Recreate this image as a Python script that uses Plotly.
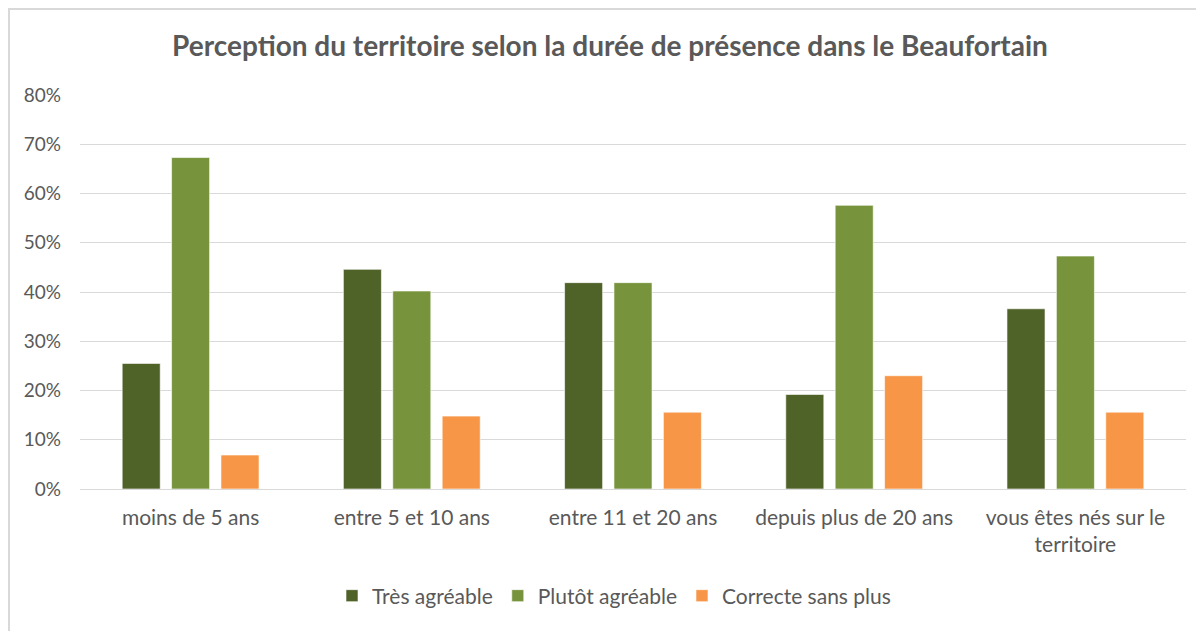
import plotly.graph_objects as go

categories = ["moins de 5 ans", "entre 5 et 10 ans", "entre 11 et 20 ans",
              "depuis plus de 20 ans", "vous êtes nés sur le<br>territoire"]
tres_agreable = [0.255, 0.446, 0.419, 0.192, 0.366]
plutot_agreable = [0.673, 0.402, 0.419, 0.576, 0.473]
correcte = [0.069, 0.148, 0.156, 0.230, 0.156]
series_names = ["Très agréable", "Plutôt agréable", "Correcte sans plus"]
colors = ["#4F6228", "#77933C", "#F79646"]

FONT = "Lato"
GREY = "#595959"

fig = go.Figure()
for name, vals, col in zip(series_names, [tres_agreable, plutot_agreable, correcte], colors):
    fig.add_trace(go.Bar(x=categories, y=vals, name=name,
                         marker=dict(color=col, line=dict(color="rgba(255,255,255,0.6)", width=1))))

# The page body has an 8px margin: figure coords = page coords - 8
OFF = 8
W, H = 1204 - OFF, 631 - OFF
L, T = 80 - OFF, 95 - OFF
pw, ph = 1106, 394
R, B = W - L - pw, H - T - ph

def px_x(x):
    return (x - OFF - L) / pw

def px_y(y):
    return (H - B - (y - OFF)) / ph

fig.update_layout(
    width=W, height=H,
    margin=dict(l=L, r=R, t=T, b=B, autoexpand=False),
    paper_bgcolor="white", plot_bgcolor="white",
    barmode="group", bargap=0.33, bargroupgap=0.23,
    title=dict(text="<b>Perception du territoire selon la durée de présence dans le Beaufortain</b>",
               x=(610 - OFF) / W, xref="container", xanchor="center",
               y=1 - (46 - OFF) / H, yanchor="middle",
               font=dict(family=FONT, size=28, color=GREY)),
    font=dict(family=FONT, size=19, color=GREY),
    yaxis=dict(range=[0, 0.8], dtick=0.1, tickformat=".0%", showgrid=True,
               gridcolor="#D9D9D9", gridwidth=1, zeroline=True, zerolinecolor="#D9D9D9",
               zerolinewidth=1, showline=False, ticks="", ticklabelstandoff=18,
               tickfont=dict(family=FONT, size=19, color=GREY)),
    xaxis=dict(showline=False, ticks="", ticklabelstandoff=14, tickangle=0,
               tickfont=dict(family=FONT, size=21, color=GREY)),
    legend=dict(orientation="h", x=px_x(614), xanchor="center",
                y=px_y(596), yanchor="middle",
                font=dict(family=FONT, size=21, color=GREY), itemwidth=30,
                traceorder="normal"),
    shapes=[
        dict(type="line", xref="paper", yref="paper", x0=px_x(9), x1=px_x(9),
             y0=px_y(8), y1=px_y(640), line=dict(color="#D9D9D9", width=2)),
        dict(type="line", xref="paper", yref="paper", x0=px_x(9), x1=px_x(1210),
             y0=px_y(9), y1=px_y(9), line=dict(color="#D9D9D9", width=2)),
    ],
)

fig.write_html("out.html")
